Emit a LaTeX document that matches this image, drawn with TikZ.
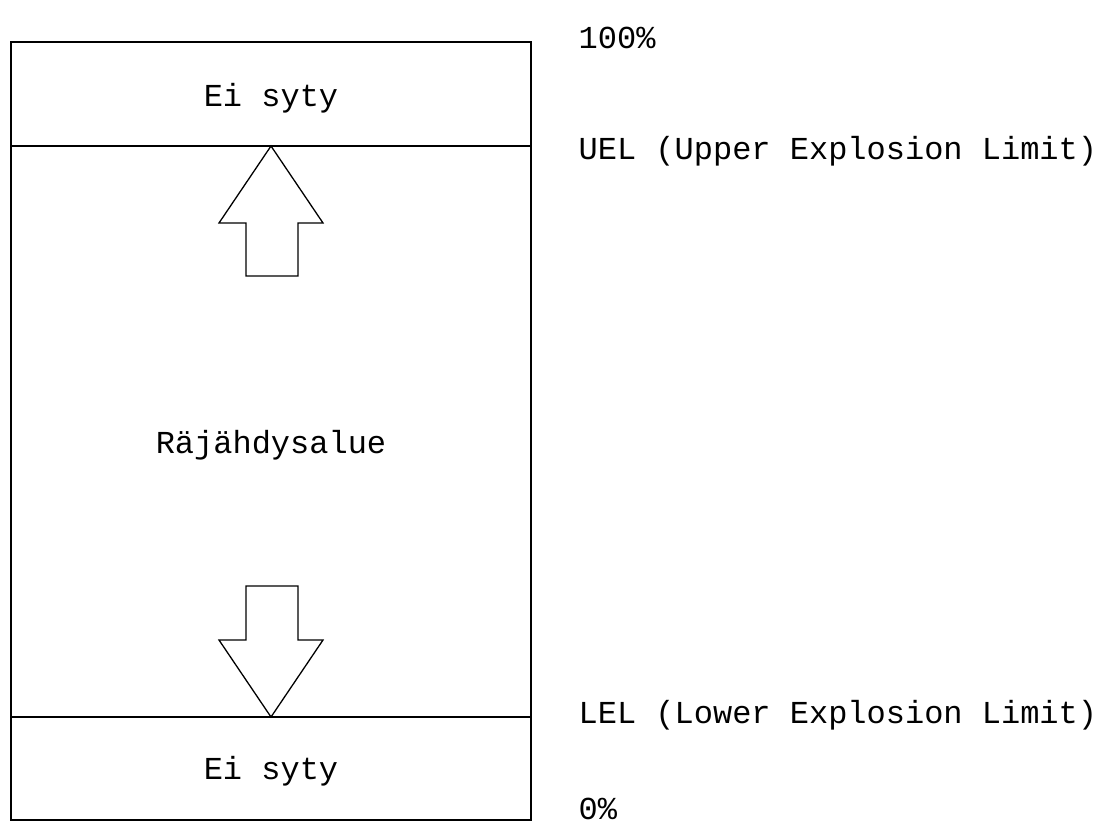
\documentclass[tikz,border=0pt]{standalone}
\usepackage{fontspec}
\setmonofont{Liberation Mono}
\usepackage{tikz}

\begin{document}
\begin{tikzpicture}[x=1pt, y=-1pt, line width=1.3pt, every node/.style={inner sep=0pt, font=\ttfamily\fontsize{32}{38}\selectfont}]
\useasboundingbox (0,0) rectangle (1103,823);
\coordinate (a) at (11,42);
\coordinate (b) at (531,820);
\coordinate (u) at (271,146);
\coordinate (l) at (271,717);
\draw (a) rectangle (b);
\draw (a |- u) -- (b |- u);
\draw (a |- l) -- (b |- l);
\draw (u) -- ++(52,77) -- ++(-25,0) -- ++(0,53) -- ++(-52,0) -- ++(0,-53) -- ++(-27,0) -- cycle;
\draw (l) -- ++(52,-77) -- ++(-25,0) -- ++(0,-54) -- ++(-52,0) -- ++(0,54) -- ++(-27,0) -- cycle;
\node[anchor=base] (1) at (271,106) {Ei syty};
\node[anchor=base] (2) at (271,453) {Räjähdysalue};
\node[anchor=base] (3) at (271,779) {Ei syty};
\node[anchor=base west] (4) at (578,48) {100\%};
\node[anchor=base west] (5) at (578,159) {UEL (Upper Explosion Limit)};
\node[anchor=base west] (6) at (578,723) {LEL (Lower Explosion Limit)};
\node[anchor=base west] (7) at (578,819) {0\%};
\end{tikzpicture}
\end{document}
